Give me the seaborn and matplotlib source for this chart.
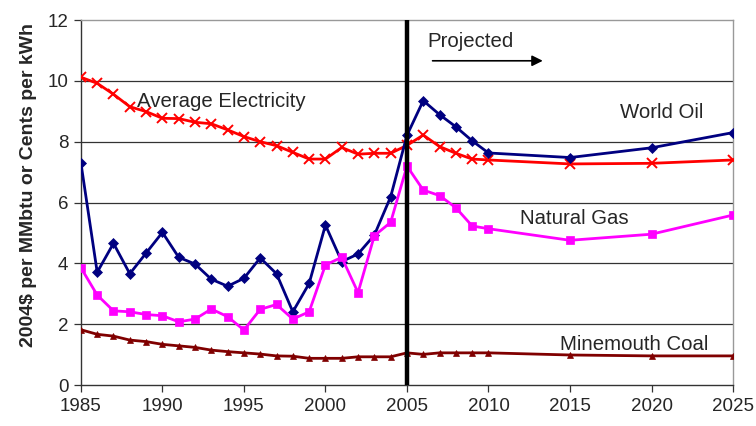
import matplotlib
matplotlib.use("Agg")
import matplotlib.pyplot as plt
import seaborn as sns
import pandas as pd

years = list(range(1985, 2011)) + [2015, 2020, 2025]

world_oil = [7.31, 3.71, 4.66, 3.66, 4.34, 5.02, 4.20, 3.98, 3.48, 3.25,
             3.51, 4.18, 3.66, 2.41, 3.34, 5.26, 4.06, 4.31, 4.93, 6.19,
             8.21, 9.35, 8.89, 8.49, 8.03, 7.63, 7.48, 7.80, 8.30]
electricity = [10.12, 9.92, 9.56, 9.15, 8.99, 8.77, 8.76, 8.64, 8.59, 8.39,
               8.17, 8.00, 7.87, 7.65, 7.43, 7.43, 7.81, 7.59, 7.62, 7.62,
               7.88, 8.22, 7.84, 7.62, 7.43, 7.40, 7.27, 7.29, 7.40]
natural_gas = [3.86, 2.96, 2.44, 2.41, 2.32, 2.28, 2.08, 2.17, 2.50, 2.25,
               1.81, 2.49, 2.65, 2.17, 2.41, 3.95, 4.20, 3.04, 4.91, 5.35,
               7.20, 6.41, 6.23, 5.83, 5.23, 5.14, 4.76, 4.96, 5.59]
coal = [1.82, 1.67, 1.61, 1.48, 1.43, 1.34, 1.29, 1.24, 1.15, 1.10,
        1.06, 1.02, 0.96, 0.95, 0.88, 0.88, 0.88, 0.93, 0.93, 0.93,
        1.06, 1.01, 1.06, 1.06, 1.06, 1.06, 0.99, 0.96, 0.96]

x_ticks = [1985, 1990, 1995, 2000, 2005, 2010, 2015, 2020, 2025]
y_ticks = [0, 2, 4, 6, 8, 10, 12]

sns.set_theme(style="white")
plt.rcParams['font.family'] = ['Liberation Sans', 'DejaVu Sans']

fig = plt.figure(figsize=(7.56, 4.26), dpi=100)
ax = fig.add_axes([0.107, 0.096, 0.8626, 0.857])

for yv in y_ticks[1:-1]:
    ax.axhline(yv, color="#333333", lw=0.9, zorder=0)

series = [
    (electricity, "#FF0000", "x", 7.5, 1.4),
    (world_oil, "#000080", "D", 5.5, 0.5),
    (natural_gas, "#FF00FF", "s", 6, 0.5),
    (coal, "#800000", "^", 5, 0.5),
]
for vals, col, mk, ms, mew in series:
    df = pd.DataFrame({"year": years, "value": vals})
    sns.lineplot(data=df, x="year", y="value", ax=ax, color=col, lw=2.0,
                 marker=mk, markersize=ms, markeredgecolor=col,
                 markerfacecolor=col, markeredgewidth=mew, zorder=3)

ax.axvline(2005, color="black", lw=3.2, zorder=4)

ax.set_xlim(1985, 2025)
ax.set_ylim(0, 12)
ax.set_xticks(x_ticks)
ax.set_yticks(y_ticks)
ax.tick_params(axis="both", labelsize=13.5, direction="out", length=5,
               width=0.9, color="#333333", bottom=True, left=True, pad=4)
ax.set_xlabel("")
ax.set_ylabel("2004$ per MMbtu or Cents per kWh", fontsize=14,
              fontweight="bold")
ax.yaxis.set_label_coords(-0.068, 0.548)

for side in ["top", "right"]:
    ax.spines[side].set_color("#999999")
    ax.spines[side].set_linewidth(1.0)
for side in ["left", "bottom"]:
    ax.spines[side].set_color("#333333")
    ax.spines[side].set_linewidth(1.0)

fs = 14.7
ax.text(1988.44, 9.31, "Average Electricity", fontsize=fs, va="center", ha="left")
ax.text(2018.07, 8.95, "World Oil", fontsize=fs, va="center", ha="left")
ax.text(2011.93, 5.49, "Natural Gas", fontsize=fs, va="center", ha="left")
ax.text(2014.39, 1.35, "Minemouth Coal", fontsize=fs, va="center", ha="left")
ax.text(2006.23, 11.28, "Projected", fontsize=fs, va="center", ha="left")
ax.annotate("", xy=(2013.5, 10.66), xytext=(2006.4, 10.66),
            arrowprops=dict(arrowstyle="-|>", color="black", lw=1.2,
                            mutation_scale=16))

fig.savefig("out.png", dpi=100)
